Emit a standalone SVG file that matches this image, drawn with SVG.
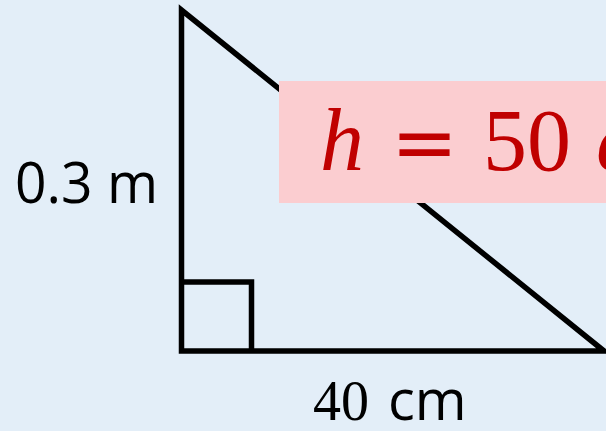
<svg xmlns="http://www.w3.org/2000/svg" width="606" height="431" viewBox="0 0 606 431">
<style>
.ln{stroke:#000;stroke-width:5.5;fill:none;stroke-linecap:butt;stroke-linejoin:miter}
.lbl{font-family:"Open Sans","Noto Sans",sans-serif;fill:#000}
.math{font-family:"Liberation Serif","DejaVu Serif",serif;fill:#C00000}
</style>
<rect width="606" height="431" fill="#E3EEF8"/>
<g id="triangle">
<path class="ln" d="M181.5,10 L181.5,351 L604,351 Z"/>
<path class="ln" d="M181.5,282 L251.5,282 L251.5,351"/>
</g>
<g id="label-height">
<text class="lbl" x="15" y="203" font-size="56" textLength="143" lengthAdjust="spacingAndGlyphs">0.3 m</text>
</g>
<g id="label-base">
<text x="313" y="420" font-size="56"><tspan font-family="Liberation Serif, DejaVu Serif, serif" fill="#000">40</tspan><tspan class="lbl" x="388">cm</tspan></text>
</g>
<g id="label-hyp">
<rect x="279" y="81" width="327" height="122" fill="#FBCDD0"/>
<text class="math" y="170" font-size="88"><tspan x="320" font-style="italic">h</tspan><tspan x="391" font-family="DejaVu Sans, sans-serif" font-size="80">=</tspan><tspan x="483">50</tspan><tspan x="596" font-style="italic">c</tspan></text>
</g>
</svg>
